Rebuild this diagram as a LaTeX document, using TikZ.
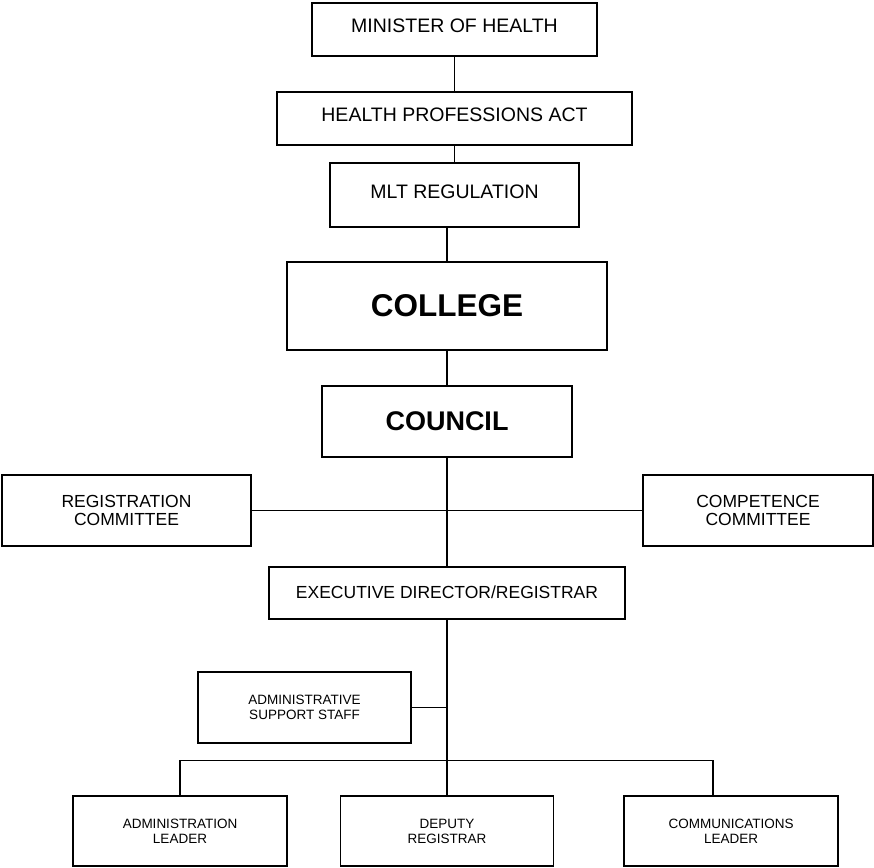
\documentclass[tikz,border=0pt]{standalone}
\usepackage{fontspec}
\setmainfont{Liberation Sans}
\usetikzlibrary{positioning,calc}
\tikzstyle{block} = [draw, rectangle, inner sep=0pt, align=center]
\tikzstyle{lawbox} = [block, minimum height=53pt, text depth=7pt, font=\fontsize{19.5}{22}\selectfont]
\tikzstyle{bodybox} = [block, font=\bfseries]
\tikzstyle{committee} = [block, minimum height=71pt, font=\fontsize{17.5}{17.5}\selectfont]
\tikzstyle{staff} = [block, minimum width=213pt, minimum height=71pt, font=\fontsize{13.5}{15}\selectfont]
\tikzstyle{branch} = [coordinate]

\begin{document}
\begin{tikzpicture}[x=1pt, y=-1pt, line width=1.2pt]
    \useasboundingbox (0,0) rectangle (874,867);

    % Placing the blocks
    \node [lawbox, minimum width=285pt] (minister) at (454.5,29.5) {MINISTER OF HEALTH};
    \node [lawbox, minimum width=355pt] (act) at (454.5,118.5) {HEALTH PROFESSIONS ACT};
    \node [lawbox, minimum width=249pt, minimum height=64pt] (regulation) at (454.5,195) {MLT REGULATION};
    \node [bodybox, minimum width=320pt, minimum height=88pt, font=\bfseries\fontsize{31.5}{34}\selectfont] (college) at (447,306) {COLLEGE};
    \node [bodybox, minimum width=250pt, minimum height=71pt, font=\bfseries\fontsize{27}{30}\selectfont] (council) at (447,421.5) {COUNCIL};
    \node [committee, minimum width=249pt] (regcom) at (126.5,510.5) {REGISTRATION\\COMMITTEE};
    \node [committee, minimum width=230pt] (compcom) at (758,510.5) {COMPETENCE\\COMMITTEE};
    \node [committee, minimum width=356pt, minimum height=52pt, text depth=2pt] (director) at (447,593) {EXECUTIVE DIRECTOR/REGISTRAR};
    \node [staff] (support) at (304.5,707.5) {ADMINISTRATIVE\\SUPPORT STAFF};
    \node [staff, minimum width=214pt, minimum height=70pt] (adminlead) at (180,831) {ADMINISTRATION\\LEADER};
    \node [staff, minimum height=70pt] (deputy) at (447,831) {DEPUTY\\REGISTRAR};
    \node [staff, minimum width=214pt, minimum height=70pt] (commlead) at (731,831) {COMMUNICATIONS\\LEADER};
    \node [branch] (bus) at (447,760.7) {};
    \coordinate (commtop) at ($(commlead.north)+(-18,0)$);

    % Connecting the nodes
    \draw (minister) -- (act);
    \draw (act) -- (regulation);
    \draw (regulation.south -| college.north) -- (college);
    \draw (college) -- (council);
    \draw (council) -- (director);
    \draw (regcom) -- (compcom);
    \draw (director) -- (deputy);
    \draw (support) -- (support -| director);
    \draw (adminlead.north) |- (bus) -| (commtop);
\end{tikzpicture}
\end{document}
